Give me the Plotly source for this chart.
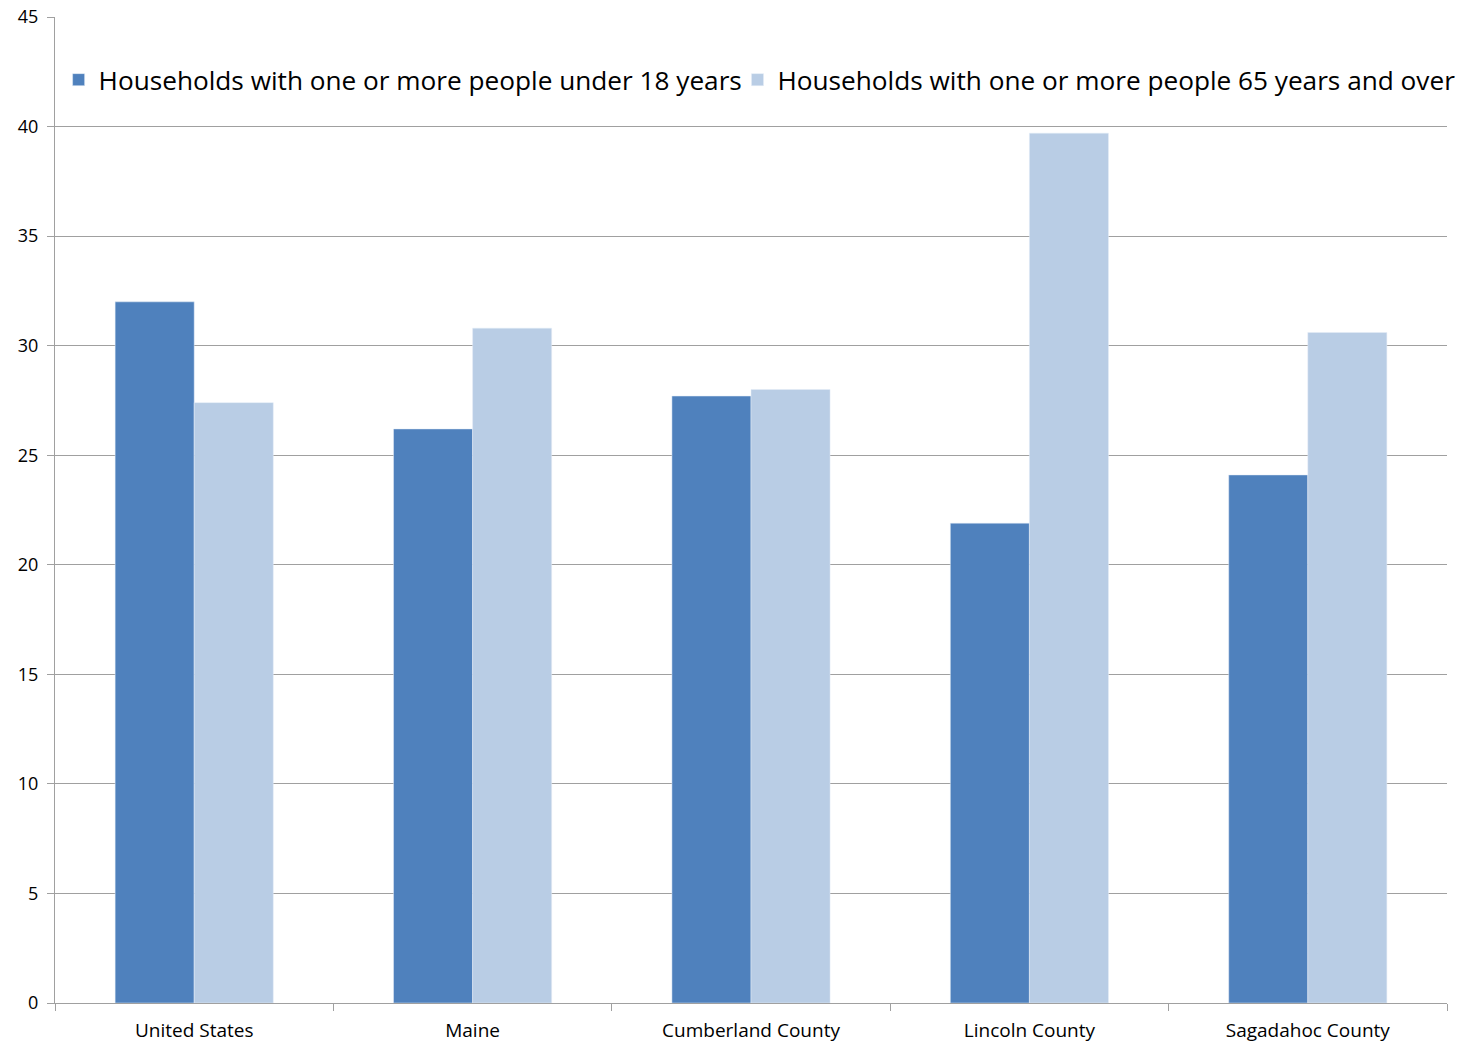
import plotly.graph_objects as go

categories = ["United States", "Maine", "Cumberland County", "Lincoln County", "Sagadahoc County"]
under18 = [32.0, 26.2, 27.7, 21.9, 24.1]
over65 = [27.4, 30.8, 28.0, 39.7, 30.6]
series_names = ["Households with one or more people under 18 years",
                "Households with one or more people 65 years and over"]
y_ticks = [0, 5, 10, 15, 20, 25, 30, 35, 40, 45]

fig = go.Figure()
fig.add_trace(go.Bar(x=categories, y=under18, name=series_names[0],
                     marker_color="#4F81BD", legend="legend"))
fig.add_trace(go.Bar(x=categories, y=over65, name=series_names[1],
                     marker_color="#B9CDE5", legend="legend2"))

legend_common = dict(orientation="h", yanchor="middle", xanchor="left",
                     font=dict(size=26.2), bgcolor="rgba(0,0,0,0)", itemwidth=30)

fig.update_layout(
    width=1460, height=1034,
    margin=dict(l=47, r=21, t=9, b=39, autoexpand=False),
    paper_bgcolor="white", plot_bgcolor="white",
    barmode="group", bargap=0.432, bargroupgap=0,
    font=dict(family="Open Sans, Noto Sans, sans-serif", color="#000000"),
    legend=dict(x=0.0026, y=0.936, **legend_common),
    legend2=dict(x=0.4903, y=0.936, **legend_common),
    showlegend=True,
)
fig.update_xaxes(
    showline=True, linecolor="#A0A0A0", linewidth=1, automargin=False,
    ticks="outside", tickson="boundaries", ticklen=7, tickcolor="#A0A0A0",
    tickfont=dict(size=19, color="#000000"), showgrid=False,
    ticklabelstandoff=10, ticklabeloverflow="allow",
)
fig.update_yaxes(
    range=[0, 45], tickvals=y_ticks, showline=True, linecolor="#A0A0A0", linewidth=1,
    ticks="outside", ticklen=7, tickcolor="#A0A0A0", automargin=False,
    showgrid=True, gridcolor="#A0A0A0", gridwidth=1,
    tickfont=dict(size=18, color="#000000"), zeroline=False,
    ticklabelstandoff=5, ticklabeloverflow="allow",
)
fig.write_html("out.html")
